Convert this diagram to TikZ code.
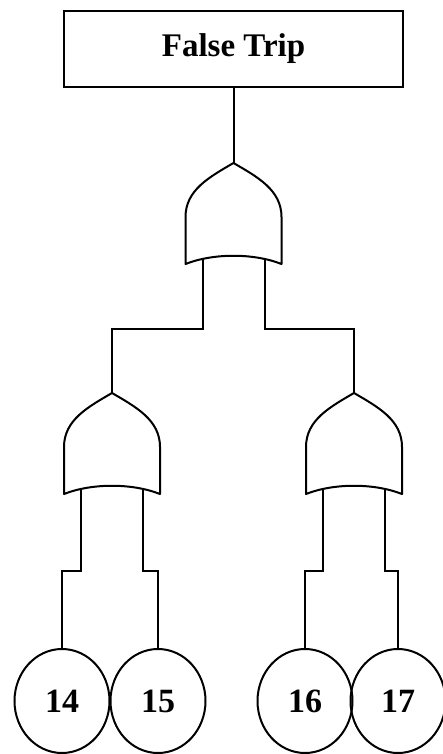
\documentclass[tikz,border=0pt]{standalone}
\usepackage{fontspec}
\setmainfont{Liberation Serif}
\usetikzlibrary{shapes.geometric}

\begin{document}
\begin{tikzpicture}[x=1pt,y=-1pt,
    filo/.style={line width=2pt},
    porta/.style={line width=2pt, line join=round},
    evento/.style={draw, line width=2.2pt, minimum width=339pt, minimum height=76pt,
      inner sep=0pt, font=\fontsize{33}{36}\selectfont\bfseries},
    foglia/.style={draw, ellipse, line width=2pt, minimum width=95pt, minimum height=104pt,
      inner sep=0pt, font=\fontsize{34}{36}\selectfont\bfseries}]
    % --- macro riutilizzabili -----------------------------------------
    \def\portaor#1#2#3{%
      \begin{scope}[shift={(#2,#3)}]
        \coordinate (#1-in) at (0,0);
        \coordinate (#1-a) at (-31,96);
        \coordinate (#1-b) at (31,96);
        \draw[porta] (0,0) .. controls (24,14) and (48,27) .. (48,54) -- (48,101)
          .. controls (20,90) and (-20,90) .. (-48,101) -- (-48,54)
          .. controls (-48,27) and (-24,14) .. cycle;
      \end{scope}}
    \useasboundingbox (0,0) rectangle (443,754);
    % --- evento di testa ----------------------------------------------
    \node[evento] (guasto) at (233.5,49) {False Trip};
    % --- porte OR -----------------------------------------------------
    \portaor{g0}{233.5}{163}
    \portaor{g1}{112}{393}
    \portaor{g2}{354}{393}
    % --- eventi di base -----------------------------------------------
    \node[foglia] (b14) at (62,701) {14};
    \node[foglia] (b15) at (158,701) {15};
    \node[foglia] (b16) at (305,701) {16};
    \node[foglia] (b17) at (398,701) {17};
    % --- collegamenti -------------------------------------------------
    \draw[filo] (guasto) -- (g0-in);
    \draw[filo] (g0-a) -- ++(0,70) -| (g1-in);
    \draw[filo] (g0-b) -- ++(0,70) -| (g2-in);
    \draw[filo] (g1-a) -- ++(0,82) -| (b14);
    \draw[filo] (g1-b) -- ++(0,82) -| (b15);
    \draw[filo] (g2-a) -- ++(0,82) -| (b16);
    \draw[filo] (g2-b) -- ++(0,82) -| (b17);
\end{tikzpicture}
\end{document}
